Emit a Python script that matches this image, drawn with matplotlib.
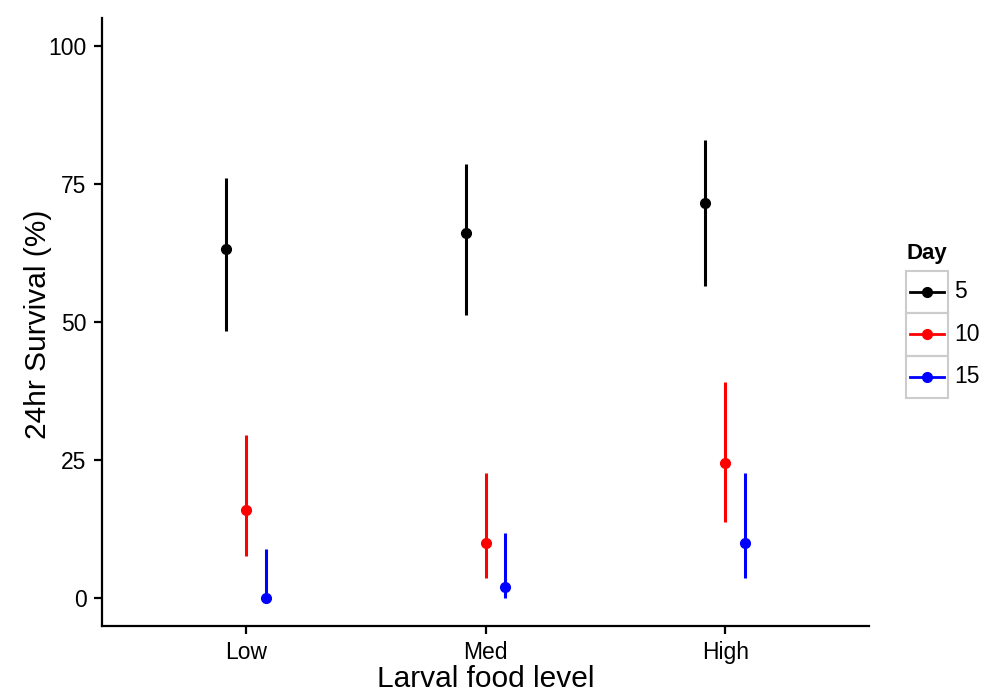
import matplotlib
matplotlib.use('Agg')
import matplotlib.pyplot as plt
from matplotlib.lines import Line2D
from matplotlib.patches import Rectangle
import numpy as np

plt.rcParams['font.family'] = ['Liberation Sans', 'DejaVu Sans']

# data
levels = ['Low', 'Med', 'High']
days = ['5', '10', '15']
colors = ['black', 'red', 'blue']

mean_5 = [63.2, 66.1, 71.5]
lo_5 = [48.3, 51.2, 56.6]
hi_5 = [76.1, 78.5, 83.0]

mean_10 = [15.9, 10.0, 24.5]
lo_10 = [7.7, 3.7, 13.8]
hi_10 = [29.6, 22.7, 39.2]

mean_15 = [0.0, 2.0, 10.0]
lo_15 = [0.0, 0.05, 3.7]
hi_15 = [8.9, 11.9, 22.7]

means = [mean_5, mean_10, mean_15]
lows = [lo_5, lo_10, lo_15]
highs = [hi_5, hi_10, hi_15]

W, H = 983, 693
fig = plt.figure(figsize=(W / 100, H / 100), dpi=100)


def fx(px):
    return px / W


def fy(py):
    return 1 - py / H


ax = fig.add_axes([fx(102), fy(626), fx(869) - fx(102), fy(18) - fy(626)])

x = np.arange(1, len(levels) + 1)
dodge = [-1 / 12, 0, 1 / 12]
for d, c, m, lo, hi, off in zip(days, colors, means, lows, highs, dodge):
    xs = x + off
    ax.vlines(xs, lo, hi, color=c, lw=2.2)
    ax.plot(xs, m, 'o', color=c, ms=7, ls='none')

ax.set_xlim(0.4, 3.6)
ax.set_ylim(-5, 105)
ax.set_xticks(x)
ax.set_xticklabels(levels)
ax.set_yticks([0, 25, 50, 75, 100])
for s in ['top', 'right']:
    ax.spines[s].set_visible(False)
for s in ['left', 'bottom']:
    ax.spines[s].set_linewidth(1.6)
ax.tick_params(axis='both', length=6, width=1.6, labelsize=16.5, colors='black', pad=5)

fig.text(fx(38), fy(324), '24hr Survival (%)', rotation=90, ha='center', va='center', fontsize=21.5)
fig.text(fx(486), fy(679), 'Larval food level', ha='center', va='center', fontsize=21.5)

# legend drawn in the ggplot style
fig.text(fx(906), fy(254), 'Day', fontsize=16, fontweight='bold', ha='left', va='center')
row_h = 42.5
top = 270.7
for i, (d, c) in enumerate(zip(days, colors)):
    y0 = top + i * row_h
    fig.patches.append(Rectangle((fx(906), fy(y0 + row_h)), fx(948) - fx(906), fy(y0) - fy(y0 + row_h),
                                 transform=fig.transFigure, fill=False, edgecolor='#cccccc', lw=1.5))
    yc = fy(y0 + row_h / 2)
    fig.lines.append(Line2D([fx(910), fx(944)], [yc, yc], color=c, lw=2, transform=fig.transFigure))
    fig.lines.append(Line2D([fx(927)], [yc], marker='o', ms=7, color=c, transform=fig.transFigure))
    fig.text(fx(954), yc, d, fontsize=16.5, ha='left', va='center')

fig.savefig('out.png', dpi=100)
